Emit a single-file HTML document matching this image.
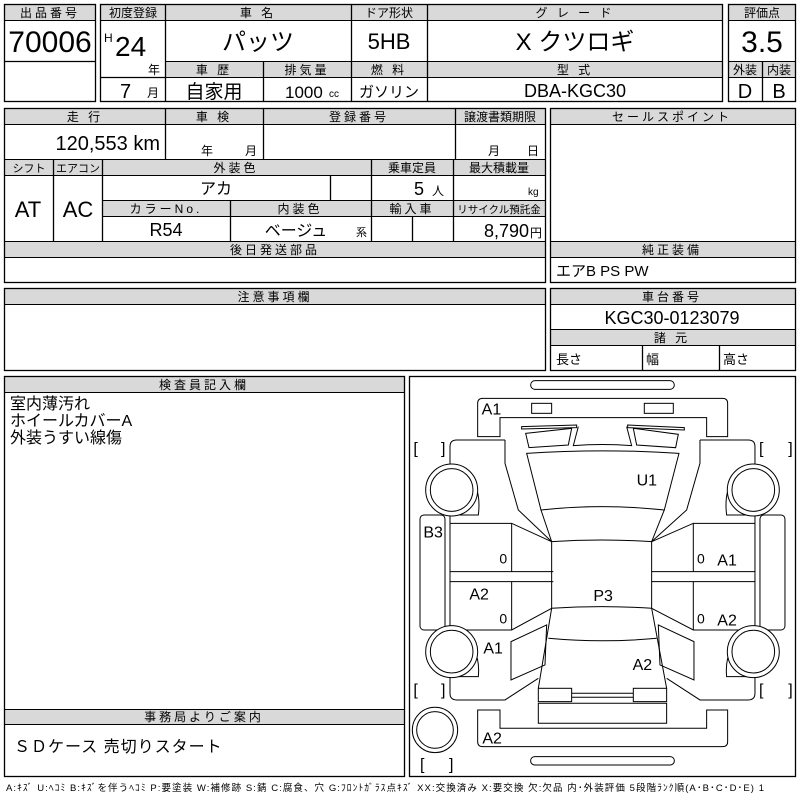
<!DOCTYPE html>
<html><head><meta charset="utf-8"><style>
html,body{margin:0;padding:0;background:#fff;width:800px;height:800px;overflow:hidden}
svg text{font-family:"Liberation Sans","Noto Sans CJK JP",sans-serif;fill:#000}
</style></head><body>
<svg width="800" height="800" viewBox="0 0 800 800" xmlns="http://www.w3.org/2000/svg">
<g fill="#d9d9d9" stroke="#000" stroke-width="1">
<rect x="4.5" y="4.5" width="91" height="16"/>
<rect x="100.5" y="4.5" width="622" height="16"/>
<rect x="165.5" y="61.5" width="557" height="16"/>
<rect x="728.5" y="4.5" width="67" height="16"/>
<rect x="728.5" y="61.5" width="67" height="16"/>
<rect x="4.5" y="108.5" width="541" height="16"/>
<rect x="4.5" y="159.5" width="541" height="16"/>
<rect x="102.5" y="200.5" width="443" height="16"/>
<rect x="4.5" y="241.5" width="541" height="16"/>
<rect x="550.5" y="108.5" width="245" height="16"/>
<rect x="550.5" y="241.5" width="245" height="16"/>
<rect x="4.5" y="288.5" width="541" height="16"/>
<rect x="550.5" y="288.5" width="245" height="16"/>
<rect x="550.5" y="329.5" width="245" height="16"/>
<rect x="4.5" y="376.5" width="400" height="16"/>
<rect x="4.5" y="709.5" width="400" height="15"/>
</g>
<g fill="none" stroke="#000" stroke-width="1.3">
<rect x="4.5" y="4.5" width="91" height="97"/>
<line x1="4" y1="61.5" x2="95" y2="61.5"/>
<rect x="100.5" y="4.5" width="622" height="97"/>
<line x1="165.5" y1="4" x2="165.5" y2="101"/>
<line x1="351.5" y1="4" x2="351.5" y2="101"/>
<line x1="427.5" y1="4" x2="427.5" y2="101"/>
<line x1="263.5" y1="61" x2="263.5" y2="101"/>
<line x1="100" y1="77.5" x2="165" y2="77.5"/>
<rect x="728.5" y="4.5" width="67" height="97"/>
<line x1="762.5" y1="61" x2="762.5" y2="101"/>
<rect x="4.5" y="108.5" width="541" height="174"/>
<line x1="165.5" y1="108" x2="165.5" y2="159"/>
<line x1="263.5" y1="108" x2="263.5" y2="159"/>
<line x1="455.5" y1="108" x2="455.5" y2="159"/>
<line x1="53.5" y1="159" x2="53.5" y2="241"/>
<line x1="102.5" y1="159" x2="102.5" y2="241"/>
<line x1="371.5" y1="159" x2="371.5" y2="241"/>
<line x1="453.5" y1="159" x2="453.5" y2="241"/>
<line x1="330.5" y1="175" x2="330.5" y2="200"/>
<line x1="230.5" y1="200" x2="230.5" y2="241"/>
<line x1="412.5" y1="216" x2="412.5" y2="241"/>
<rect x="550.5" y="108.5" width="245" height="174"/>
<rect x="4.5" y="288.5" width="541" height="82"/>
<rect x="550.5" y="288.5" width="245" height="82"/>
<line x1="642.5" y1="345" x2="642.5" y2="370"/>
<line x1="719.5" y1="345" x2="719.5" y2="370"/>
<rect x="4.5" y="376.5" width="400" height="400"/>
<rect x="409.5" y="376.5" width="386" height="400"/>
</g>
<g font-size="12" text-anchor="middle" letter-spacing="3">
<text x="50" y="17">出品番号</text>
<text x="133" y="17" letter-spacing="0">初度登録</text>
<text x="258" y="17">車 名</text>
<text x="389" y="17" letter-spacing="0">ドア形状</text>
<text x="575" y="17">グ レ ー ド</text>
<text x="762" y="17" letter-spacing="0">評価点</text>
<text x="214" y="74">車 歴</text>
<text x="307" y="74">排気量</text>
<text x="389" y="74">燃 料</text>
<text x="575" y="74">型 式</text>
<text x="745" y="74" letter-spacing="0">外装</text>
<text x="779" y="74" letter-spacing="0">内装</text>
<text x="85" y="121">走 行</text>
<text x="214" y="121">車 検</text>
<text x="359" y="121">登録番号</text>
<text x="500" y="121" letter-spacing="0">譲渡書類期限</text>
<text x="29" y="172" font-size="11" letter-spacing="0">シフト</text>
<text x="78" y="172" font-size="11" letter-spacing="0">エアコン</text>
<text x="236" y="172">外装色</text>
<text x="412" y="172" letter-spacing="0">乗車定員</text>
<text x="499" y="172" letter-spacing="0">最大積載量</text>
<text x="166" y="213">カラーNo.</text>
<text x="300" y="213">内装色</text>
<text x="412" y="213">輸入車</text>
<text x="499" y="213" font-size="10.5" letter-spacing="0">リサイクル預託金</text>
<text x="275" y="254">後日発送部品</text>
<text x="672" y="121">セールスポイント</text>
<text x="672" y="254">純正装備</text>
<text x="275" y="301">注意事項欄</text>
<text x="672" y="301">車台番号</text>
<text x="672" y="342">諸 元</text>
<text x="204" y="389">検査員記入欄</text>
<text x="204" y="721">事務局よりご案内</text>
</g>
<g>
<text x="50" y="52" font-size="30" text-anchor="middle">70006</text>
<text x="104" y="42" font-size="12">H</text>
<text x="115" y="56" font-size="28">24</text>
<text x="148" y="74" font-size="12">年</text>
<text x="120" y="98" font-size="20">7</text>
<text x="147" y="97" font-size="12">月</text>
<text x="258" y="50" font-size="24" text-anchor="middle">パッツ</text>
<text x="389" y="49" font-size="22" text-anchor="middle">5HB</text>
<text x="575" y="50" font-size="24" text-anchor="middle">X クツロギ</text>
<text x="762" y="52" font-size="30" text-anchor="middle">3.5</text>
<text x="745" y="98" font-size="20" text-anchor="middle">D</text>
<text x="779" y="98" font-size="20" text-anchor="middle">B</text>
<text x="214" y="98" font-size="19" text-anchor="middle">自家用</text>
<text x="285" y="98" font-size="17">1000</text>
<text x="329" y="97" font-size="10">cc</text>
<text x="389" y="97" font-size="15" text-anchor="middle">ガソリン</text>
<text x="575" y="97" font-size="18" text-anchor="middle">DBA-KGC30</text>
<text x="160" y="150" font-size="20" text-anchor="end">120,553 km</text>
<text x="201" y="155" font-size="12">年</text>
<text x="245" y="155" font-size="12">月</text>
<text x="488" y="155" font-size="12">月</text>
<text x="527" y="155" font-size="12">日</text>
<text x="28" y="217" font-size="22" text-anchor="middle">AT</text>
<text x="78" y="217" font-size="22" text-anchor="middle">AC</text>
<text x="216" y="194" font-size="16" text-anchor="middle">アカ</text>
<text x="419" y="195" font-size="18" text-anchor="middle">5</text>
<text x="432" y="195" font-size="12">人</text>
<text x="528" y="195" font-size="10">kg</text>
<text x="166" y="236" font-size="18" text-anchor="middle">R54</text>
<text x="296" y="236" font-size="16" text-anchor="middle">ベージュ</text>
<text x="356" y="236" font-size="11">系</text>
<text x="529" y="237" font-size="18" text-anchor="end">8,790</text>
<text x="530" y="237" font-size="12">円</text>
<text x="556" y="276" font-size="15">エアB PS PW</text>
<text x="672" y="324" font-size="18" text-anchor="middle">KGC30-0123079</text>
<text x="556" y="364" font-size="13">長さ</text>
<text x="646" y="364" font-size="13">幅</text>
<text x="723" y="364" font-size="13">高さ</text>
<text x="10" y="409" font-size="16">室内薄汚れ</text>
<text x="10" y="426" font-size="16">ホイールカバーA</text>
<text x="10" y="443" font-size="16">外装うすい線傷</text>
<text x="14" y="752" font-size="16" letter-spacing="1">ＳＤケース 売切りスタート</text>
<text x="6" y="791" font-size="9.5" textLength="758" lengthAdjust="spacing">A:ｷｽﾞ U:ﾍｺﾐ B:ｷｽﾞを伴うﾍｺﾐ P:要塗装 W:補修跡 S:錆 C:腐食、穴 G:ﾌﾛﾝﾄｶﾞﾗｽ点ｷｽﾞ XX:交換済み X:要交換 欠:欠品 内･外装評価 5段階ﾗﾝｸ順(A･B･C･D･E) 1</text>
</g>
<g transform="translate(405,375) scale(0.3333)" fill="none" stroke="#000" stroke-width="3">
<rect x="377" y="17" width="431" height="26" rx="13"/>
<rect x="377" y="1145" width="431" height="25" rx="12"/>
<path d="M218,85 Q218,70 233,70 L953,70 Q968,70 968,85 L968,185 L905,185 L905,128 L285,128 L285,185 L218,185 Z"/>
<rect x="380" y="85" width="60" height="30"/>
<rect x="718" y="85" width="87" height="30"/>
<path d="M218,1005 L285,1005 L285,1060 L905,1060 L905,1005 L968,1005 L968,1100 Q968,1115 953,1115 L233,1115 Q218,1115 218,1100 Z"/>
<path d="M350,155 L515,150 L515,158 L350,162 Z"/>
<path d="M362,175 L500,160 L490,210 L372,218 Z"/>
<path d="M668,150 L838,158 L838,165 L668,158 Z"/>
<path d="M685,160 L820,178 L812,218 L695,210 Z"/>
<path d="M520,155 L505,212 Q592,205 680,212 L665,155"/>
<path d="M365,235 Q592,220 822,235 L778,405 Q592,385 408,405 Z"/>
<path d="M408,405 L440,500 Q590,490 740,500 L778,405"/>
<path d="M440,500 L440,700 Q590,690 740,700 L740,500"/>
<path d="M440,700 L400,940 M740,700 L785,940"/>
<path d="M430,790 Q592,805 755,790"/>
<rect x="400" y="940" width="100" height="40"/>
<rect x="685" y="940" width="100" height="40"/>
<path d="M500,955 L685,955 M500,967 L685,967"/>
<path d="M400,985 L785,985 L785,1045 L400,1045 Z"/>
<path d="M300,195 L155,195 Q135,195 135,215 L135,268"/>
<path d="M300,195 Q300,230 300,265 L340,405 L440,500"/>
<path d="M135,268 Q235,300 220,420 L135,420 L135,445"/>
<path d="M135,445 L320,445 L440,500 M135,590 L445,590 M135,620 L445,620 M135,765 L320,765 L440,700"/>
<path d="M135,445 L135,765 M320,445 L320,590 M320,620 L320,765"/>
<path d="M135,765 L135,770 Q230,800 220,905 L135,905 L135,955 Q135,975 155,975 L300,975 L400,910"/>
<path d="M318,800 L425,750 L420,870 L318,915 Z"/>
<rect x="45" y="420" width="75" height="345" rx="12"/>
<g transform="translate(1185,0) scale(-1,1)">
<path d="M300,195 L155,195 Q135,195 135,215 L135,268"/>
<path d="M300,195 Q300,230 300,265 L340,405 L445,500"/>
<path d="M135,268 Q235,300 220,420 L135,420 L135,445"/>
<path d="M135,445 L320,445 L445,500 M135,590 L445,590 M135,620 L445,620 M135,765 L320,765 L445,700"/>
<path d="M135,445 L135,765 M320,445 L320,590 M320,620 L320,765"/>
<path d="M135,765 L135,770 Q230,800 220,905 L135,905 L135,955 Q135,975 155,975 L300,975 L400,910"/>
<path d="M318,800 L425,750 L420,870 L318,915 Z"/>
<rect x="45" y="420" width="75" height="345" rx="12"/>
</g>
<g fill="#fff">
<circle cx="140" cy="345" r="78"/><circle cx="140" cy="345" r="64"/>
<circle cx="140" cy="830" r="78"/><circle cx="140" cy="830" r="64"/>
<circle cx="1045" cy="345" r="78"/><circle cx="1045" cy="345" r="64"/>
<circle cx="1045" cy="830" r="78"/><circle cx="1045" cy="830" r="64"/>
<circle cx="90" cy="1065" r="68"/><circle cx="90" cy="1065" r="55"/>
</g>
<g font-size="48" stroke="none" fill="#000" font-family="Liberation Sans, sans-serif">
<text x="25" y="235">[</text><text x="108" y="235">]</text>
<text x="1062" y="235">[</text><text x="1150" y="235">]</text>
<text x="25" y="960">[</text><text x="108" y="960">]</text>
<text x="1062" y="960">[</text><text x="1150" y="960">]</text>
<text x="45" y="1183">[</text><text x="132" y="1183">]</text>
</g>
<g font-size="48" stroke="none" fill="#000" font-family="Liberation Sans, sans-serif">
<text x="230" y="118">A1</text>
<text x="695" y="332">U1</text>
<text x="55" y="488">B3</text>
<text x="193" y="673">A2</text>
<text x="565" y="678">P3</text>
<text x="235" y="835">A1</text>
<text x="683" y="885">A2</text>
<text x="937" y="572">A1</text>
<text x="937" y="752">A2</text>
<text x="232" y="1105">A2</text>
</g>
<g font-size="42" stroke="none" fill="#000" font-family="Liberation Sans, sans-serif">
<text x="283" y="565">0</text><text x="283" y="745">0</text>
<text x="876" y="565">0</text><text x="876" y="745">0</text>
</g>
</g>
</svg>
</body></html>
